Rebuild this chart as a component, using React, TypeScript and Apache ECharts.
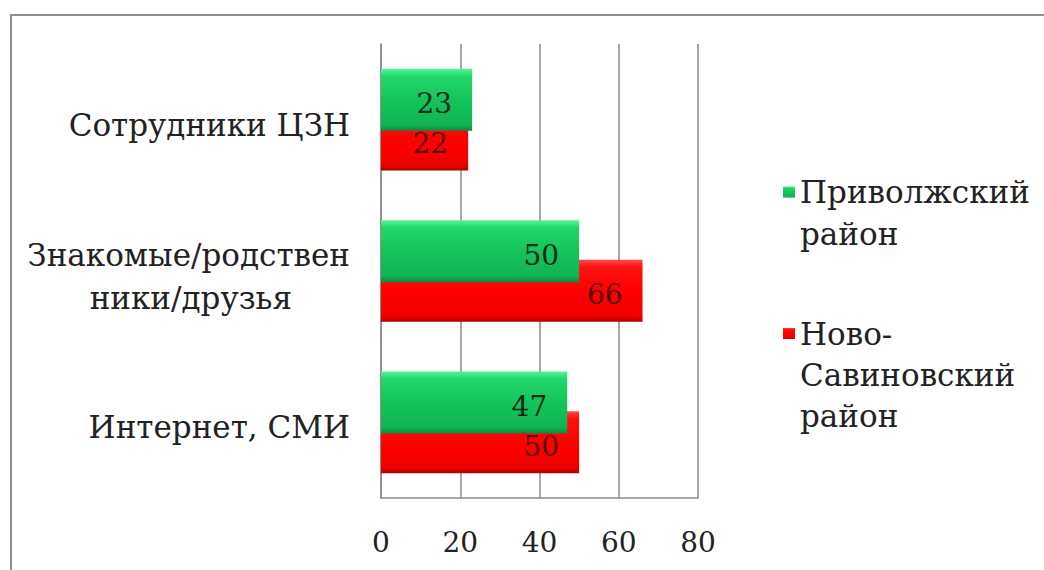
import React, { useEffect, useRef } from "react";
import * as echarts from "echarts";

const categories = ["Интернет, СМИ", "Знакомые/родственники/друзья", "Сотрудники ЦЗН"];
const seriesGreenName = "Приволжский район";
const seriesRedName = "Ново-Савиновский район";
const greenValues = [47, 50, 23];
const redValues = [50, 66, 22];
const xTicks = [0, 20, 40, 60, 80];

const FONT = "DejaVu Serif";

export default function App() {
  const ref = useRef<HTMLDivElement>(null);
  useEffect(() => {
    if (!ref.current) return;
    const chart = echarts.init(ref.current, undefined, { renderer: "svg" });
    const greenGrad = new echarts.graphic.LinearGradient(0, 0, 0, 1, [
      { offset: 0, color: "#5af29a" },
      { offset: 0.12, color: "#22d86a" },
      { offset: 0.5, color: "#14c45a" },
      { offset: 0.9, color: "#10b452" },
      { offset: 1, color: "#0b8a3c" },
    ]);
    const redGrad = new echarts.graphic.LinearGradient(0, 0, 0, 1, [
      { offset: 0, color: "#ff4a4a" },
      { offset: 0.12, color: "#ff1010" },
      { offset: 0.5, color: "#ff0000" },
      { offset: 0.9, color: "#f00000" },
      { offset: 1, color: "#b00000" },
    ]);
    chart.setOption({
      animation: false,
      backgroundColor: "#ffffff",
      textStyle: { fontFamily: FONT },
      graphic: [
        {
          type: "polyline",
          shape: { points: [[11, 572], [11, 15], [1046, 15]] },
          style: { stroke: "#8f8f8f", lineWidth: 2, fill: "none" },
          silent: true,
        },
      ],
      grid: { left: 381, right: 346, top: 44, bottom: 72, containLabel: false },
      legend: [
        {
          data: [seriesGreenName],
          left: 778,
          top: 124,
          orient: "vertical",
          icon: "rect",
          itemWidth: 12,
          itemHeight: 11,
          formatter: () => "\nПриволжский\nрайон",
          textStyle: { fontFamily: FONT, fontSize: 31, color: "#222222", lineHeight: 42 },
        },
        {
          data: [seriesRedName],
          left: 778,
          top: 226,
          orient: "vertical",
          icon: "rect",
          itemWidth: 12,
          itemHeight: 11,
          formatter: () => "\n\nНово-\nСавиновский\nрайон",
          textStyle: { fontFamily: FONT, fontSize: 31, color: "#222222", lineHeight: 41 },
        },
      ],
      xAxis: {
        type: "value",
        min: 0,
        max: 80,
        interval: 20,
        axisLine: { show: true, lineStyle: { color: "#8a8a8a", width: 1.5 } },
        axisTick: { show: false },
        splitLine: { show: true, lineStyle: { color: "#8a8a8a", width: 1.5 } },
        axisLabel: {
          margin: 30,
          fontFamily: FONT,
          fontSize: 28,
          color: "#222222",
          formatter: (v: number) => (xTicks.includes(v) ? String(v) : ""),
        },
      },
      yAxis: {
        type: "category",
        data: categories,
        axisLine: { show: true, lineStyle: { color: "#8a8a8a", width: 1.5 } },
        axisTick: { show: false },
        axisLabel: {
          margin: 31,
          padding: [10, 0, 0, 0],
          fontFamily: FONT,
          fontSize: 31,
          color: "#222222",
          formatter: (v: string) =>
            v === "Знакомые/родственники/друзья"
              ? "{a|Знакомые/родствен}\n{b|ники/друзья}"
              : v,
          rich: {
            a: { fontFamily: FONT, fontSize: 31, color: "#222222", lineHeight: 43 },
            b: { fontFamily: FONT, fontSize: 31, color: "#222222", lineHeight: 43, padding: [0, 58, 0, 0] },
          },
        },
      },
      series: [
        {
          name: seriesGreenName,
          type: "bar",
          data: greenValues,
          barWidth: 62,
          barGap: "-36%",
          z: 3,
          itemStyle: { color: greenGrad },
          label: {
            show: true,
            position: "insideRight",
            distance: 20,
            offset: [0, 4],
            fontFamily: FONT,
            fontSize: 28,
            color: "#0d2a15",
          },
        },
        {
          name: seriesRedName,
          type: "bar",
          data: redValues,
          barWidth: 62,
          barGap: "-36%",
          z: 2,
          itemStyle: { color: redGrad },
          label: {
            show: true,
            position: "insideRight",
            distance: 20,
            offset: [0, 4],
            fontFamily: FONT,
            fontSize: 28,
            color: "#5a0808",
          },
        },
      ],
    });
    return () => chart.dispose();
  }, []);
  return (
    <div
      ref={ref}
      style={{ position: "fixed", left: 0, top: 0, width: 1044, height: 570 }}
    />
  );
}
